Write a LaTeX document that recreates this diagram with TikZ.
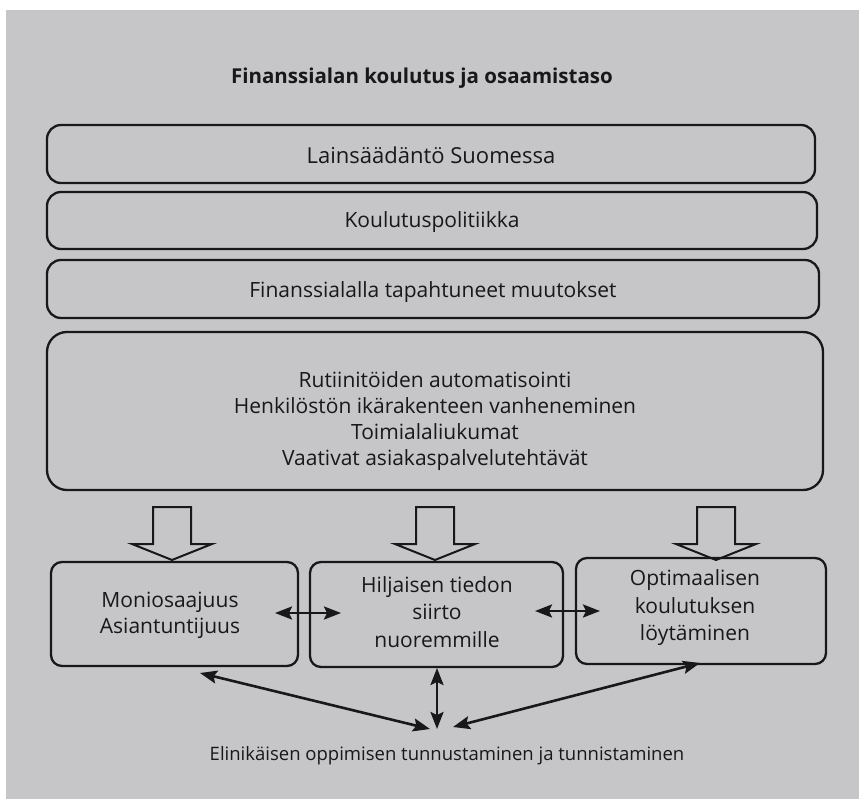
\documentclass[tikz,border=0pt]{standalone}
\usepackage{fontspec}
\setmainfont{Open Sans}
\usetikzlibrary{arrows.meta}
\definecolor{paper}{RGB}{198,198,200}
\definecolor{ink}{RGB}{24,24,26}
\tikzset{
  box/.style={draw=ink, line width=2.3pt, rounded corners=14pt, inner sep=0pt},
  bigbox/.style={box, rounded corners=20pt},
  smallbox/.style={box, rounded corners=11pt},
  txt/.style={text=ink, font=\fontsize{21}{26}\selectfont, align=center, inner sep=0pt},
  blockarrow/.style={draw=ink, line width=2pt, line join=miter},
  dbl/.style={draw=ink, line width=2.6pt, {Stealth[length=17pt,width=13pt,inset=3pt]}-{Stealth[length=17pt,width=13pt,inset=3pt]}}
}
\begin{document}
\begin{tikzpicture}[x=1pt,y=-1pt]
\useasboundingbox (0,0) rectangle (859,799);
\fill[paper] (6,10) rectangle (859,799);
% title
\node[txt, font=\fontsize{20.5}{24}\bfseries\selectfont] (title) at (422,78) {Finanssialan koulutus ja osaamistaso};
% top boxes
\node[box, minimum width=768pt, minimum height=58pt] (b1) at (431,154) {};
\node[txt, font=\fontsize{22}{26}\selectfont] (t1) at (431,155) {Lainsäädäntö Suomessa};
\node[box, minimum width=770pt, minimum height=57pt] (b2) at (432,220.5) {};
\node[txt] (t2) at (432,222) {Koulutuspolitiikka};
\node[box, minimum width=772pt, minimum height=58pt] (b3) at (433,289) {};
\node[txt] (t3) at (433,292) {Finanssialalla tapahtuneet muutokset};
\node[bigbox, minimum width=776pt, minimum height=158pt] (b4) at (435,411) {};
\node[txt] (t4) at (435,421) {Rutiinitöiden automatisointi\\Henkilöstön ikärakenteen vanheneminen\\Toimialaliukumat\\Vaativat asiakaspalvelutehtävät};
% bottom boxes
\node[smallbox, minimum width=247pt, minimum height=104pt] (bl) at (174.5,614) {};
\node[txt] (tl) at (170,615) {Moniosaajuus\\Asiantuntijuus};
\node[smallbox, minimum width=253pt, minimum height=105pt] (bm) at (436.5,614.5) {};
\node[txt, font=\fontsize{21}{27.5}\selectfont] (tm) at (437,612) {Hiljaisen tiedon\\siirto\\nuoremmille};
\node[smallbox, minimum width=250pt, minimum height=106pt] (br) at (701,611) {};
\node[txt, font=\fontsize{21}{27.5}\selectfont] (tr) at (695,608) {Optimaalisen\\koulutuksen\\löytäminen};
% block arrows
\foreach \cx/\nm in {172/ba1, 435/ba2, 716/ba3}{
  \draw[blockarrow] (\cx-19,507) -- (\cx+19,507) -- (\cx+19,544) -- (\cx+40,544)
     -- (\cx,560) -- (\cx-40,544) -- (\cx-19,544) -- cycle;
}
% horizontal double arrows
\coordinate (h1a) at (275,613);
\coordinate (h1b) at (341,613);
\coordinate (h2a) at (535,611);
\coordinate (h2b) at (600,611);
\draw[dbl] (h1a) -- (h1b);
\draw[dbl] (h2a) -- (h2b);
% bottom arrows
\coordinate (pl) at (200,673);
\coordinate (ql) at (430,729);
\coordinate (pm) at (437,668);
\coordinate (qm) at (437,729);
\coordinate (pr) at (700,663);
\coordinate (qr) at (453,727);
\draw[dbl] (pl) -- (ql);
\draw[dbl] (pm) -- (qm);
\draw[dbl] (qr) -- (pr);
% bottom text
\node[txt, font=\fontsize{18.5}{22}\selectfont] (bottom) at (447,756) {Elinikäisen oppimisen tunnustaminen ja tunnistaminen};
\end{tikzpicture}
\end{document}
